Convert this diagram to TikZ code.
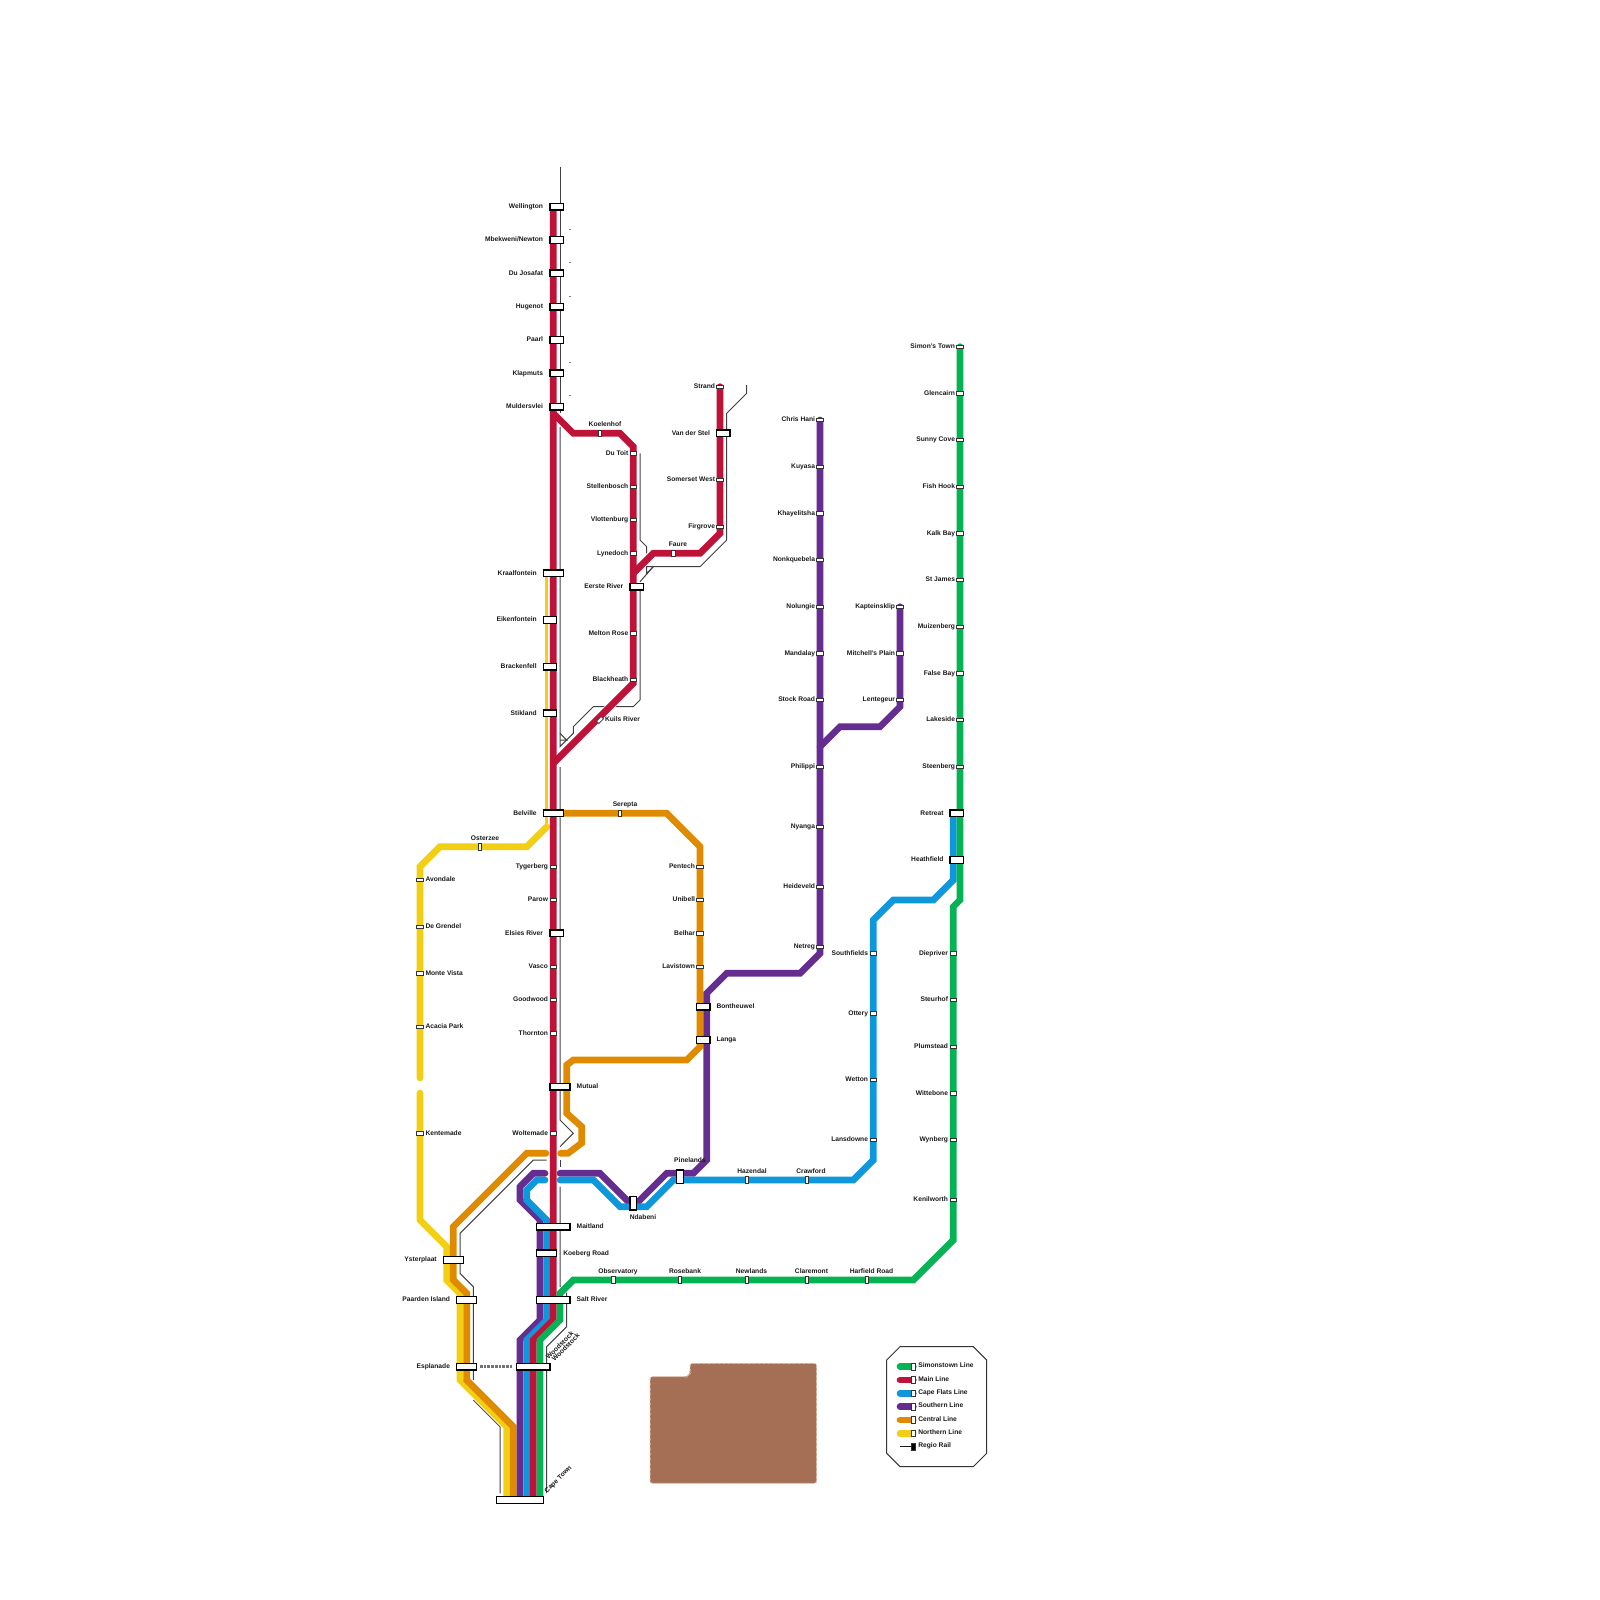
\documentclass[tikz,border=0pt]{standalone}
\usepackage{fontspec}
\setmainfont{Liberation Sans}
\definecolor{cGreen}{HTML}{05B354}
\definecolor{cRed}{HTML}{BE1238}
\definecolor{cBlue}{HTML}{0F97DB}
\definecolor{cPurple}{HTML}{662D91}
\definecolor{cOrange}{HTML}{E08A00}
\definecolor{cYellow}{HTML}{F2CF14}
\definecolor{cBrown}{HTML}{A56F55}
\definecolor{cBrownEdge}{HTML}{DCC0B0}
\tikzset{
  stabox/.style={draw=black,fill=white,line width=0.012cm,inner sep=0pt,outer sep=0pt,rectangle},
  tickh/.style={stabox,draw=black!80,line width=0.007cm,minimum width=0.0667cm,minimum height=0.0333cm},
  tickv/.style={stabox,draw=black!80,line width=0.007cm,minimum width=0.0333cm,minimum height=0.0667cm},
  boxs/.style={stabox,minimum width=0.1333cm,minimum height=0.0667cm},
  boxm/.style={stabox,minimum width=0.2cm,minimum height=0.0667cm},
  boxl/.style={stabox,minimum width=0.3333cm,minimum height=0.0667cm},
  boxv/.style={stabox,minimum width=0.0667cm,minimum height=0.1333cm},
  lab/.style={font=\fontsize{1.9}{2.2}\selectfont\bfseries,inner sep=0pt,outer sep=0pt,text=black!90},
  regio/.style={draw=black!75,line width=0.01cm},
  casing/.style={draw=white,line width=0.08cm,line cap=round,line join=miter},
  route/.style={draw=#1,line width=0.0667cm,line cap=round,line join=miter},
  thinroute/.style={draw=#1,line width=0.033cm,line cap=butt},
}
% station with side label: id, style, x, y, anchor, label x, text
\newcommand{\stl}[7]{\node[#2] (#1) at (#3,#4) {};
  \node[lab,anchor=#5] (#1-t) at (#6,#4+1.8) {#7};}
% station with free label: id, style, x, y, label x, label baseline y, text
\newcommand{\stc}[7]{\node[#2] (#1) at (#3,#4) {};
  \node[lab,anchor=base] (#1-t) at (#5,#6) {#7};}
% route paths
\def\pYa{(420,1078)--(420,866.7)--(440,846.7)--(527,846.7)--(546.7,827)}
\def\pYb{(420,1093)--(420,1220)--(446.7,1246.7)--(446.7,1280)--(460,1293.3)--(460,1380)--(506.7,1426.7)--(506.7,1500)}
\def\pOa{(546,1153.3)--(526.7,1153.3)--(453.3,1226.7)--(453.3,1280)--(466.7,1293.3)--(466.7,1380)--(513.3,1426.7)--(513.3,1500)}
\def\pOb{(560.6,1153.3)--(568,1153.3)--(581.7,1143)--(581.7,1126.7)--(566.7,1113.3)--(566.7,1065)--(573.3,1060)--(686.7,1060)--(700,1046.7)--(700,846.7)--(666.7,813.3)--(560,813.3)}
\def\pPa{(545,1173.3)--(533.3,1173.3)--(520,1186.7)--(520,1200)--(540,1220)--(540,1320)--(520,1340)--(520,1500)}
\def\pPb{(560,1173.3)--(600,1173.3)--(630,1203.3)--(636.7,1203.3)--(666.7,1173.3)--(693.3,1173.3)--(706.7,1160)--(706.7,993.3)--(726.7,973.3)--(800,973.3)--(820,953.3)--(820,420)}
\def\pPc{(820,746.7)--(840,726.7)--(880,726.7)--(900,706.7)--(900,606.7)}
\def\pBa{(545,1180)--(536.7,1180)--(526.7,1190)--(526.7,1200)--(546.7,1220)--(546.7,1320)--(526.7,1340)--(526.7,1500)}
\def\pBb{(560,1180)--(593.3,1180)--(620,1206.7)--(646.7,1206.7)--(673.3,1180)--(853.3,1180)--(873.3,1160)--(873.3,920)--(893.3,900)--(933.3,900)--(953.3,880)--(953.3,813.3)}
\def\pRa{(553.3,206.7)--(553.3,1320)--(533.3,1340)--(533.3,1500)}
\def\pRb{(553.3,413.3)--(573.3,433.3)--(620,433.3)--(633.3,446.7)--(633.3,683.3)--(553.3,763.3)}
\def\pRc{(633.3,573.3)--(653.3,553.3)--(700,553.3)--(720,533.3)--(720,386.7)}
\def\pG{(540,1500)--(540,1340)--(560,1320)--(560,1293.3)--(573.3,1280)--(913.3,1280)--(953.3,1240)--(953.3,906.7)--(960,900)--(960,346.7)}
\begin{document}
\begin{tikzpicture}[x=0.01cm,y=-0.01cm]
\useasboundingbox (0,0) rectangle (1600,1600);
% land block
\path[fill=cBrown,draw=cBrownEdge,line width=0.01cm,dash pattern=on 0.03cm off 0.02cm,rounded corners=0.025cm]
  (650,1376.7)--(686.7,1376.7)--(690,1373.3)--(690,1363.3)--(816.7,1363.3)--(816.7,1483.3)--(650,1483.3)--cycle;
% regional lines
\draw[regio] (560,166.7)--(560,413);
\draw[regio] (560,427)--(560,746.7)--(573.3,733.3)--(573.3,726.7)--(593.3,706.7)--(633.3,706.7)--(640,700)--(640,586.7);
\draw[regio] (560,733.3)--(566.7,740)--(560,740);
\draw[regio] (560,767)--(560,1120)--(573.3,1133.3)--(560,1146.7);
\draw[regio] (560,1160)--(560,1167);
\draw[regio] (560,1186.7)--(560,1286.7)--(566.7,1293.3)--(566.7,1326.7)--(546.7,1346.7)--(546.7,1493);
\draw[regio] (546.7,1160)--(533.3,1160)--(460,1233.3)--(460,1273.3)--(473.3,1286.7)--(473.3,1380);
\draw[regio] (473.3,1400)--(500,1426.7)--(500,1493.3);
\draw[regio] (640,453.3)--(640,540)--(646.7,546.7)--(646.7,553.3);
\draw[regio] (640,581.7)--(653.3,566.7)--(700,566.7)--(726.7,540)--(726.7,413.3)--(746.7,393.3)--(746.7,385);
\draw[regio] (653.3,566.7)--(646.7,566.7)--(646.7,573.3)--(653.3,566.7);
\foreach \yy in {229.3,262.7,296,362.5,395.7} {\draw[draw=black!50,line width=0.01cm] (569.3,\yy)--(570.7,\yy);}
% Esplanade to Woodstock walking link
\coordinate (linkA) at (480,1366.7);
\coordinate (linkB) at (513,1366.7);
\draw[draw=black!55,line width=0.027cm,dash pattern=on 0.027cm off 0.01cm] (linkA)--(linkB);
% casings
\foreach \p in {\pYa,\pYb,\pOa,\pOb,\pPa,\pPb,\pPc,\pBa,\pBb,\pRa,\pRb,\pRc,\pG} {\draw[casing] \p;}
% routes
\draw[route=cYellow] \pYa;
\draw[route=cYellow] \pYb;
\draw[thinroute=cYellow] (546.7,573)--(546.7,829);
\draw[route=cOrange] \pOa;
\draw[route=cOrange] \pOb;
\draw[route=cPurple] \pPa;
\draw[route=cPurple] \pPb;
\draw[route=cPurple] \pPc;
\draw[route=cBlue] \pBa;
\draw[route=cBlue] \pBb;
\draw[casing,line cap=butt] (553.3,1140)--(553.3,1195);
\draw[route=cRed] \pRa;
\draw[route=cRed] \pRb;
\draw[route=cRed] \pRc;
\draw[route=cGreen] \pG;
% Main line
\stl{wel}{boxs}{556.7}{206.7}{base east}{543}{Wellington}
\stl{mbe}{boxs}{556.7}{240}{base east}{543}{Mbekweni/Newton}
\stl{duj}{boxs}{556.7}{273.3}{base east}{543}{Du Josafat}
\stl{hug}{boxs}{556.7}{306.7}{base east}{543}{Hugenot}
\stl{paa}{boxs}{556.7}{340}{base east}{543}{Paarl}
\stl{kla}{boxs}{556.7}{373.3}{base east}{543}{Klapmuts}
\stl{mul}{boxs}{556.7}{406.7}{base east}{543}{Muldersvlei}
\stl{kra}{boxm}{553.3}{573.3}{base east}{536.7}{Kraalfontein}
\stl{eik}{boxs}{550}{620}{base east}{536.7}{Eikenfontein}
\stl{bra}{boxs}{550}{666.7}{base east}{536.7}{Brackenfell}
\stl{sti}{boxs}{550}{713.3}{base east}{536.7}{Stikland}
\stl{bel}{boxm}{553.3}{813.3}{base east}{536.7}{Belville}
\stl{tyg}{tickh}{553.3}{866.7}{base east}{548}{Tygerberg}
\stl{par}{tickh}{553.3}{900}{base east}{548}{Parow}
\stl{els}{boxs}{556.7}{933.3}{base east}{543}{Elsies River}
\stl{vas}{tickh}{553.3}{966.7}{base east}{548}{Vasco}
\stl{goo}{tickh}{553.3}{1000}{base east}{548}{Goodwood}
\stl{tho}{tickh}{553.3}{1033.3}{base east}{548}{Thornton}
\stl{mut}{boxm}{560}{1086.7}{base west}{576.7}{Mutual}
\stl{wol}{tickh}{553.3}{1133.3}{base east}{548}{Woltemade}
\stl{mai}{boxl}{553.3}{1226.7}{base west}{576.7}{Maitland}
\stl{koe}{boxm}{546.7}{1253.3}{base west}{563.3}{Koeberg Road}
\stl{sal}{boxl}{553.3}{1300}{base west}{576.7}{Salt River}
\node[boxl] (woo) at (533.3,1366.7) {};
\node[lab,rotate=45,anchor=west] (woo-t1) at (547,1358) {Woodstock};
\node[lab,rotate=45,anchor=west] (woo-t2) at (553,1360) {Woodstock};
\node[stabox,minimum width=0.4667cm,minimum height=0.0667cm] (cap) at (520,1500) {};
\node[lab,rotate=45,anchor=west] (cap-t) at (546,1492) {Cape Town};
% Stellenbosch branch
\stc{koh}{tickv}{600}{433.3}{605}{426}{Koelenhof}
\stl{dut}{tickh}{633.3}{453.3}{base east}{628.3}{Du Toit}
\stl{ste}{tickh}{633.3}{486.7}{base east}{628.3}{Stellenbosch}
\stl{vlo}{tickh}{633.3}{520}{base east}{628.3}{Vlottenburg}
\stl{lyn}{tickh}{633.3}{553.3}{base east}{628.3}{Lynedoch}
\stl{eer}{boxs}{636.7}{586.7}{base east}{623.3}{Eerste River}
\stl{mel}{tickh}{633.3}{633.3}{base east}{628.3}{Melton Rose}
\stl{bla}{tickh}{633.3}{680}{base east}{628.3}{Blackheath}
\node[tickv,rotate=-45] (kui) at (600,720) {};
\node[lab,anchor=base west] (kui-t) at (605,721.5) {Kuils River};
% Strand branch
\stc{fau}{tickv}{673.3}{553.3}{678}{546}{Faure}
\stl{fir}{tickh}{720}{526.7}{base east}{715}{Firgrove}
\stl{som}{tickh}{720}{480}{base east}{715}{Somerset West}
\stl{van}{boxs}{723.3}{433.3}{base east}{710}{Van der Stel}
\stl{str}{tickh}{720}{386.7}{base east}{715}{Strand}
% Northern line
\stc{ost}{tickv}{480}{846.7}{485}{840}{Osterzee}
\stl{avo}{tickh}{420}{880}{base west}{425.5}{Avondale}
\stl{deg}{tickh}{420}{926.7}{base west}{425.5}{De Grendel}
\stl{mon}{tickh}{420}{973.3}{base west}{425.5}{Monte Vista}
\stl{aca}{tickh}{420}{1026.7}{base west}{425.5}{Acacia Park}
\stl{ken}{tickh}{420}{1133.3}{base west}{425.5}{Kentemade}
\stl{yst}{boxm}{453.3}{1260}{base east}{436.7}{Ysterplaat}
\stl{pae}{boxm}{466.7}{1300}{base east}{450}{Paarden Island}
\stl{esp}{boxm}{466.7}{1366.7}{base east}{450}{Esplanade}
% Central line
\stc{ser}{tickv}{620}{813.3}{625}{806.5}{Serepta}
\stl{pen}{tickh}{700}{866.7}{base east}{695}{Pentech}
\stl{uni}{tickh}{700}{900}{base east}{695}{Unibell}
\stl{bel2}{tickh}{700}{933.3}{base east}{695}{Belhar}
\stl{lav}{tickh}{700}{966.7}{base east}{695}{Lavistown}
\stl{bon}{boxs}{703.3}{1006.7}{base west}{716.5}{Bontheuwel}
\stl{lan}{boxs}{703.3}{1040}{base west}{716.5}{Langa}
% Southern line
\stl{chr}{tickh}{820}{420}{base east}{815}{Chris Hani}
\stl{kuy}{tickh}{820}{466.7}{base east}{815}{Kuyasa}
\stl{kha}{tickh}{820}{513.3}{base east}{815}{Khayelitsha}
\stl{non}{tickh}{820}{560}{base east}{815}{Nonkquebela}
\stl{nol}{tickh}{820}{606.7}{base east}{815}{Nolungie}
\stl{man}{tickh}{820}{653.3}{base east}{815}{Mandalay}
\stl{sto}{tickh}{820}{700}{base east}{815}{Stock Road}
\stl{phi}{tickh}{820}{766.7}{base east}{815}{Philippi}
\stl{nya}{tickh}{820}{826.7}{base east}{815}{Nyanga}
\stl{hei}{tickh}{820}{886.7}{base east}{815}{Heideveld}
\stl{net}{tickh}{820}{946.7}{base east}{815}{Netreg}
\stl{kap}{tickh}{900}{606.7}{base east}{895}{Kapteinsklip}
\stl{mit}{tickh}{900}{653.3}{base east}{895}{Mitchell's Plain}
\stl{len}{tickh}{900}{700}{base east}{895}{Lentegeur}
\stc{pin}{boxv}{680}{1176.7}{690}{1162.5}{Pinelands}
\stc{nda}{boxv}{633.3}{1203.3}{643}{1219}{Ndabeni}
% Cape Flats line
\stl{sou}{tickh}{873.3}{953.3}{base east}{868}{Southfields}
\stl{ott}{tickh}{873.3}{1013.3}{base east}{868}{Ottery}
\stl{wet}{tickh}{873.3}{1080}{base east}{868}{Wetton}
\stl{lad}{tickh}{873.3}{1140}{base east}{868}{Lansdowne}
\stc{haz}{tickv}{746.7}{1180}{752}{1173}{Hazendal}
\stc{cra}{tickv}{806.7}{1180}{811}{1173}{Crawford}
% Simonstown line
\stl{sim}{tickh}{960}{346.7}{base east}{955}{Simon's Town}
\stl{gle}{tickh}{960}{393.3}{base east}{955}{Glencairn}
\stl{sun}{tickh}{960}{440}{base east}{955}{Sunny Cove}
\stl{fis}{tickh}{960}{486.7}{base east}{955}{Fish Hook}
\stl{kal}{tickh}{960}{533.3}{base east}{955}{Kalk Bay}
\stl{stj}{tickh}{960}{580}{base east}{955}{St James}
\stl{mui}{tickh}{960}{626.7}{base east}{955}{Muizenberg}
\stl{fal}{tickh}{960}{673.3}{base east}{955}{False Bay}
\stl{lak}{tickh}{960}{720}{base east}{955}{Lakeside}
\stl{stb}{tickh}{960}{766.7}{base east}{955}{Steenberg}
\stl{ret}{boxs}{956.7}{813.3}{base east}{943.5}{Retreat}
\stl{hea}{boxs}{956.7}{860}{base east}{943.5}{Heathfield}
\stl{die}{tickh}{953.3}{953.3}{base east}{948}{Diepriver}
\stl{ste2}{tickh}{953.3}{1000}{base east}{948}{Steurhof}
\stl{plu}{tickh}{953.3}{1046.7}{base east}{948}{Plumstead}
\stl{wit}{tickh}{953.3}{1093.3}{base east}{948}{Wittebone}
\stl{wyn}{tickh}{953.3}{1140}{base east}{948}{Wynberg}
\stl{ken2}{tickh}{953.3}{1200}{base east}{948}{Kenilworth}
\stc{obs}{tickv}{613.3}{1280}{618}{1273}{Observatory}
\stc{ros}{tickv}{680}{1280}{685}{1273}{Rosebank}
\stc{new}{tickv}{746.7}{1280}{751.5}{1273}{Newlands}
\stc{cla}{tickv}{806.7}{1280}{811.5}{1273}{Claremont}
\stc{har}{tickv}{866.7}{1280}{871.5}{1273}{Harfield Road}
% Legend
\draw[draw=black!80,line width=0.01cm] (900,1346.7)--(973.3,1346.7)--(986.7,1360)--(986.7,1453.3)--(973.3,1466.7)--(900,1466.7)--(886.7,1453.3)--(886.7,1360)--cycle;
\foreach \yy/\cc/\tt/\nn in {1366.7/cGreen/Simonstown Line/a,1380/cRed/Main Line/b,1393.3/cBlue/Cape Flats Line/c,1406.7/cPurple/Southern Line/d,1420/cOrange/Central Line/e,1433.3/cYellow/Northern Line/f}{
  \coordinate (lg\nn) at (900,\yy);
  \draw[route=\cc] (lg\nn)--(913.3,\yy);
  \node[tickv] (lgs\nn) at (913.3,\yy) {};
  \node[lab,anchor=base west] (lgt\nn) at (918.3,\yy+1.2) {\tt};
}
\coordinate (lgg) at (900,1446.7);
\node[tickv,fill=black] (lgsg) at (913.3,1446.7) {};
\draw[draw=black!90,line width=0.009cm] (lgg)--(lgsg);
\node[lab,anchor=base west] (lgtg) at (918.3,1447.9) {Regio Rail};
\end{tikzpicture}
\end{document}
